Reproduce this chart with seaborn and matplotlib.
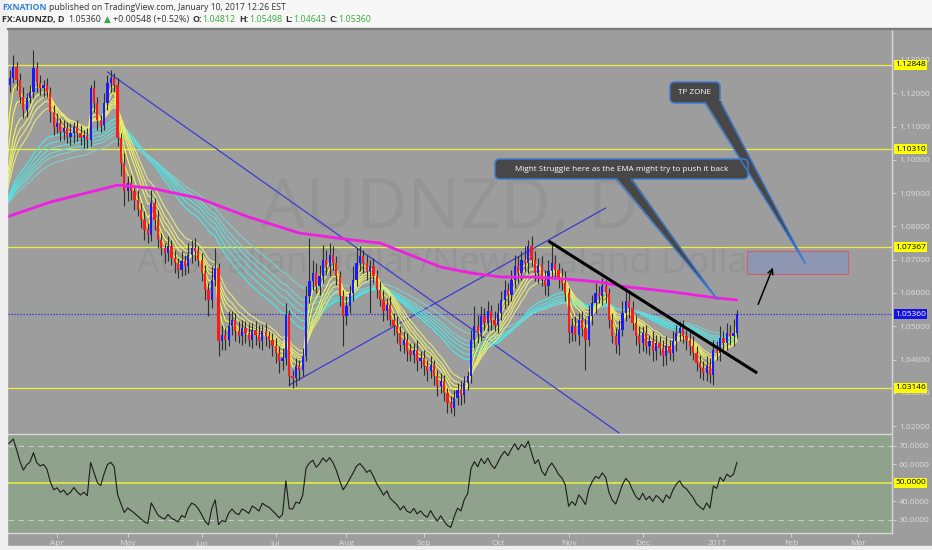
import matplotlib
matplotlib.use("Agg")
import matplotlib.pyplot as plt
import matplotlib.patches as mpatches
import matplotlib.transforms as mtransforms
import numpy as np
import pandas as pd
import seaborn as sns

# ---------------- data ----------------
start_day = "2016-03-11"
end_day = "2017-03-15"

first_open = 1.1180
close = [
    1.1225, 1.1245, 1.1280, 1.1240, 1.1190, 1.1150, 1.1185, 1.1205, 1.1275, 1.1230,
    1.1215, 1.1225, 1.1205, 1.1145, 1.1100, 1.1110, 1.1085, 1.1095, 1.1070, 1.1080,
    1.1100, 1.1080, 1.1065, 1.1075, 1.1060, 1.1215, 1.1170, 1.1120, 1.1105, 1.1170,
    1.1230, 1.1245, 1.1225, 1.1065, 1.0990, 1.0905, 1.0930, 1.0905, 1.0880, 1.0850,
    1.0820, 1.0790, 1.0775, 1.0870, 1.0820, 1.0760, 1.0735, 1.0720, 1.0740, 1.0705,
    1.0690, 1.0670, 1.0695, 1.0680, 1.0715, 1.0735, 1.0725, 1.0700, 1.0660, 1.0610,
    1.0580, 1.0640, 1.0675, 1.0455, 1.0475, 1.0460, 1.0500, 1.0520, 1.0485, 1.0470,
    1.0495, 1.0480, 1.0460, 1.0490, 1.0475, 1.0455, 1.0485, 1.0470, 1.0460, 1.0440,
    1.0420, 1.0395, 1.0405, 1.0535, 1.0350, 1.0345, 1.0380, 1.0370, 1.0410, 1.0590,
    1.0635, 1.0660, 1.0620, 1.0650, 1.0700, 1.0680, 1.0715, 1.0690, 1.0650, 1.0590,
    1.0530, 1.0560, 1.0600, 1.0640, 1.0690, 1.0710, 1.0690, 1.0665, 1.0680, 1.0650,
    1.0610, 1.0580, 1.0545, 1.0565, 1.0520, 1.0500, 1.0480, 1.0445, 1.0460, 1.0425,
    1.0415, 1.0430, 1.0395, 1.0405, 1.0380, 1.0365, 1.0385, 1.0350, 1.0320, 1.0335,
    1.0300, 1.0270, 1.0255, 1.0285, 1.0310, 1.0295, 1.0330, 1.0350, 1.0460, 1.0500,
    1.0480, 1.0530, 1.0510, 1.0545, 1.0520, 1.0505, 1.0540, 1.0580, 1.0610, 1.0595,
    1.0640, 1.0680, 1.0660, 1.0700, 1.0690, 1.0740, 1.0700, 1.0660, 1.0685, 1.0640,
    1.0620, 1.0665, 1.0690, 1.0670, 1.0645, 1.0630, 1.0600, 1.0480, 1.0500, 1.0475,
    1.0520, 1.0495, 1.0460, 1.0530, 1.0570, 1.0600, 1.0590, 1.0620, 1.0600, 1.0520,
    1.0470, 1.0445, 1.0490, 1.0540, 1.0575, 1.0555, 1.0510, 1.0470, 1.0450, 1.0480,
    1.0440, 1.0455, 1.0425, 1.0450, 1.0435, 1.0410, 1.0440, 1.0420, 1.0455, 1.0480,
    1.0495, 1.0470, 1.0460, 1.0440, 1.0420, 1.0390, 1.0375, 1.0360, 1.0380, 1.0355,
    1.0430, 1.0420, 1.0465, 1.0450, 1.0480, 1.0470, 1.04812, 1.05360,
]
upper_wick_pips = [
    20, 25, 35, 15, 20, 30, 15, 20, 55, 20,
    25, 15, 20, 15, 20, 30, 15, 25, 20, 30,
    15, 20, 25, 15, 20, 10, 25, 20, 15, 30,
    25, 25, 15, 20, 15, 30, 20, 25, 15, 30,
    20, 25, 20, 40, 15, 30, 20, 15, 30, 20,
    25, 15, 30, 20, 35, 25, 30, 15, 20, 25,
    20, 40, 60, 15, 30, 20, 45, 25, 20, 30,
    25, 20, 30, 20, 25, 30, 20, 25, 15, 20,
    25, 20, 30, 35, 15, 20, 25, 20, 25, 30,
    130, 40, 30, 35, 45, 30, 35, 25, 20, 15,
    20, 30, 25, 40, 45, 30, 20, 25, 20, 25,
    20, 25, 30, 20, 25, 20, 30, 20, 25, 20,
    25, 20, 30, 20, 25, 20, 25, 15, 20, 25,
    20, 15, 20, 25, 20, 25, 20, 15, 30, 60,
    35, 30, 25, 30, 20, 25, 30, 25, 30, 20,
    30, 35, 30, 25, 40, 20, 30, 25, 20, 25,
    30, 35, 60, 25, 20, 30, 35, 15, 25, 30,
    20, 25, 30, 35, 25, 30, 20, 25, 20, 15,
    20, 25, 30, 35, 40, 25, 20, 25, 30, 20,
    25, 20, 30, 25, 20, 25, 30, 20, 30, 25,
    20, 25, 20, 25, 30, 20, 25, 20, 30, 25,
    30, 25, 35, 20, 30, 25, 40, 14,
]
lower_wick_pips = [
    25, 20, 15, 30, 20, 25, 20, 15, 20, 25,
    20, 25, 15, 30, 25, 20, 30, 25, 20, 25,
    30, 25, 20, 30, 25, 20, 25, 30, 20, 15,
    20, 25, 20, 25, 40, 45, 30, 25, 30, 20,
    25, 30, 25, 20, 30, 25, 20, 30, 25, 20,
    30, 25, 20, 25, 20, 25, 30, 20, 25, 30,
    50, 25, 20, 45, 25, 30, 20, 25, 30, 20,
    25, 30, 20, 25, 30, 20, 25, 30, 25, 30,
    30, 35, 25, 20, 30, 30, 25, 30, 20, 15,
    20, 25, 20, 25, 20, 25, 30, 20, 25, 30,
    90, 25, 20, 25, 20, 25, 30, 25, 125, 20,
    25, 20, 30, 25, 20, 25, 30, 20, 25, 30,
    20, 25, 30, 20, 25, 30, 20, 25, 30, 20,
    25, 30, 15, 25, 20, 30, 25, 20, 20, 25,
    30, 25, 20, 25, 30, 20, 25, 20, 25, 30,
    20, 25, 30, 20, 25, 30, 20, 25, 30, 20,
    25, 30, 20, 25, 30, 20, 25, 30, 25, 20,
    30, 25, 90, 20, 25, 30, 20, 25, 30, 25,
    20, 25, 30, 20, 25, 30, 20, 25, 30, 25,
    20, 25, 30, 25, 20, 30, 25, 20, 25, 30,
    25, 20, 30, 25, 20, 25, 30, 20, 25, 25,
    30, 20, 25, 30, 20, 25, 30, 17,
]

levels = [1.12848, 1.10310, 1.07367, 1.03146]
last_price = 1.05360

# Guppy ribbons (computed from the closes)
ema_fast_spans = [3, 5, 8, 10, 12, 15]
ema_slow_spans = [30, 35, 40, 45, 50, 60]
warmup_close = 1.085          # where the ribbons come in from at the left edge
rsi_seed = (0.00255, 0.0012)  # avg gain / avg loss entering the window (RSI ~68)

# slow moving average (magenta), read point by point
slow_ma_dates = ["2016-03-11", "2016-03-30", "2016-04-27", "2016-05-11", "2016-05-31",
                 "2016-06-21", "2016-07-12", "2016-08-02", "2016-08-15", "2016-08-26",
                 "2016-09-08", "2016-09-21", "2016-10-04", "2016-10-17", "2016-10-31",
                 "2016-11-14", "2016-11-23", "2016-12-14", "2017-01-02", "2017-01-10"]
slow_ma_values = [1.0828, 1.0873, 1.0924, 1.0915, 1.0885,
                  1.0828, 1.0780, 1.0760, 1.0750, 1.0714,
                  1.0678, 1.0660, 1.0648, 1.0648, 1.0642,
                  1.0633, 1.0620, 1.0603, 1.0585, 1.0579]

# hand-drawn trend lines: (date, price) pairs
trend_down = [("2016-04-22", 1.12638), ("2016-11-22", 1.01794)]
trend_up = [("2016-07-07", 1.03236), ("2016-11-16", 1.08552)]
trend_black = [("2016-10-24", 1.07561), ("2017-01-18", 1.03596)]
tp_zone = [("2017-01-13", 1.06570), ("2017-02-24", 1.07261)]
arrow_path = [("2017-01-18", 1.0558), ("2017-01-25", 1.0684)]

# ---------------- layout ----------------
W, H = 932, 550
BG = "#9d9d9d"
LIGHT = "#dcdcdc"

sns.set_theme(style="white")
plt.rcParams["font.family"] = ["Open Sans", "DejaVu Sans"]

days = pd.bdate_range(start_day, end_day)
pos = pd.Series(np.arange(len(days)), index=days)


def at(d):
    return pos[pd.Timestamp(d)]


def rect(l, t, r, b):
    return [l / W, 1 - b / H, (r - l) / W, (b - t) / H]


fig = plt.figure(figsize=(W / 100, H / 100), dpi=100, facecolor=BG)
fig.patches.append(mpatches.Rectangle((0, 1 - 28 / H), 1, 28 / H, transform=fig.transFigure,
                                      color="#f7f7f7", zorder=0))
fig.patches.append(mpatches.Rectangle((0, 0), 7 / W, 1, transform=fig.transFigure,
                                      color="#eeeeee", zorder=0))
fig.patches.append(mpatches.Rectangle((0, 0), 1, 4 / H, transform=fig.transFigure,
                                      color="#eeeeee", zorder=0))
fig.patches.append(mpatches.Rectangle((7 / W, 1 - 29 / H), 1, 1.2 / H, transform=fig.transFigure,
                                      color="#7a7a7a", zorder=1))

ax = fig.add_axes(rect(7.5, 29, 892, 434))
rsi_ax = fig.add_axes(rect(7.5, 436, 892, 533), sharex=ax)

# ---------------- candles ----------------
c = np.array(close)
o = np.r_[first_open, c[:-1]]
hi = np.maximum(o, c) + np.array(upper_wick_pips) * 1e-4
lo = np.minimum(o, c) - np.array(lower_wick_pips) * 1e-4
x = np.arange(len(c))

ax.set_facecolor(BG)
ax.set_xlim(0.3, 263.07)
ax.set_ylim(1.01764, 1.13929)

# watermark
ax.text(0.5, 0.553, "AUDNZD, D", transform=ax.transAxes, ha="center", va="center",
        fontsize=50.5, color="#959595", zorder=0)
ax.text(0.5, 0.42, "Australian Dollar/New Zealand Dollar", transform=ax.transAxes,
        ha="center", va="center", fontsize=26, color="#959595", zorder=0)

for lv in levels:
    ax.axhline(lv, color="#f0f03c", lw=0.9, zorder=1)
ax.axhline(last_price, color="#2424e6", lw=0.9, ls=(0, (1, 1.4)), zorder=1)

# trend lines
for line in (trend_down, trend_up):
    ax.plot([at(d) for d, _ in line], [p for _, p in line], color="#3c3cd0", lw=0.9, zorder=2)

# ribbons
series = pd.Series(np.r_[warmup_close, c])
fast_cols = ["#ffff1e", "#fbfb3c", "#f6f656", "#f0f068", "#ebeb74", "#e6e67c"]
slow_cols = ["#3cf0f0", "#48e8e8", "#55e2e2", "#62dcdc", "#6fd6d6", "#7ad0d0"]
for spans, cols in [(ema_slow_spans, slow_cols), (ema_fast_spans, fast_cols)]:
    for span, col in zip(spans, cols):
        ema = series.ewm(span=span, adjust=False).mean().iloc[1:].values
        sns.lineplot(x=x, y=ema, ax=ax, color=col, lw=0.8, zorder=3, legend=False)

up = c >= o
ax.vlines(x, lo, hi, color="#2e2e2e", lw=0.8, zorder=4)
ax.bar(x, np.maximum(np.abs(c - o), 0.0003), bottom=np.minimum(o, c), width=0.66,
       color=np.where(up, "#1a1aff", "#ff1a1a"), linewidth=0, zorder=5)

sns.lineplot(x=[at(d) for d in slow_ma_dates], y=slow_ma_values, ax=ax,
             color="#f01ee0", lw=2.0, zorder=6, legend=False)

ax.plot([at(d) for d, _ in trend_black], [p for _, p in trend_black], color="black",
        lw=2.2, zorder=7, solid_capstyle="butt")

(d0, p0), (d1, p1) = tp_zone
ax.add_patch(mpatches.Rectangle((at(d0), p0), at(d1) - at(d0), p1 - p0, facecolor="#8d97b5",
                                edgecolor="#d05a6a", lw=0.8, alpha=0.9, zorder=6))
(a0, q0), (a1, q1) = arrow_path
ax.annotate("", xy=(at(a1), q1), xytext=(at(a0), q0), zorder=8,
            arrowprops=dict(arrowstyle="->", color="black", lw=1.1, mutation_scale=9))

# price axis
ax.yaxis.tick_right()
ax.set_yticks(np.arange(1.02, 1.1305, 0.01))
ax.yaxis.set_major_formatter(matplotlib.ticker.FormatStrFormatter("%.5f"))
ax.tick_params(axis="y", colors=LIGHT, labelcolor=LIGHT, labelsize=6, length=3, width=0.6, pad=2)
ax.tick_params(axis="x", bottom=False, labelbottom=False)
for s in ["left", "top"]:
    ax.spines[s].set_visible(False)
for s in ["right", "bottom"]:
    ax.spines[s].set_color("#d8d8d8")
    ax.spines[s].set_linewidth(1.0)

lab_tr = mtransforms.blended_transform_factory(ax.transAxes, ax.transData)
lab_tr = lab_tr + mtransforms.ScaledTranslation(3 / 100, 0, fig.dpi_scale_trans)
for lv in levels:
    ax.text(1, lv, f"{lv:.5f}", transform=lab_tr, ha="left", va="center", fontsize=6,
            color="black", zorder=20, clip_on=False,
            bbox=dict(boxstyle="square,pad=0.18", fc="#ffff00", ec="none"))
ax.text(1, last_price, f"{last_price:.5f}", transform=lab_tr, ha="left", va="center",
        fontsize=6, color="white", zorder=20, clip_on=False,
        bbox=dict(boxstyle="square,pad=0.18", fc="#1414e6", ec="none"))

# ---------------- RSI panel ----------------
g, l = rsi_seed
rsi = []
prev = first_open
for v in c:
    d = v - prev
    g = (g * 13 + max(d, 0)) / 14
    l = (l * 13 + max(-d, 0)) / 14
    rsi.append(100 - 100 / (1 + g / l))
    prev = v

rsi_ax.set_facecolor("#8fa28b")
rsi_ax.set_ylim(22.97, 75.4)
rsi_ax.axhline(50, color="#d6e24a", lw=1.4, zorder=1)
for lv in (70, 30):
    rsi_ax.axhline(lv, color="#c4cfc2", lw=0.8, ls=(0, (5, 4)), zorder=1)
sns.lineplot(x=x, y=rsi, ax=rsi_ax, color="#1c1c1c", lw=0.8, zorder=3, legend=False)

rsi_ax.yaxis.tick_right()
rsi_ax.set_yticks([30, 40, 60, 70])
rsi_ax.yaxis.set_major_formatter(matplotlib.ticker.FormatStrFormatter("%.4f"))
rsi_ax.tick_params(axis="y", colors=LIGHT, labelcolor=LIGHT, labelsize=6, length=3, width=0.6, pad=2)
rsi_tr = mtransforms.blended_transform_factory(rsi_ax.transAxes, rsi_ax.transData)
rsi_tr = rsi_tr + mtransforms.ScaledTranslation(3 / 100, 0, fig.dpi_scale_trans)
rsi_ax.text(1, 50, "50.0000", transform=rsi_tr, ha="left", va="center", fontsize=6,
            color="black", zorder=20, clip_on=False,
            bbox=dict(boxstyle="square,pad=0.18", fc="#ffff00", ec="none"))
for s in ["left", "top"]:
    rsi_ax.spines[s].set_visible(False)
for s in ["right", "bottom"]:
    rsi_ax.spines[s].set_color("#d8d8d8")
    rsi_ax.spines[s].set_linewidth(1.0)

month_starts = [d for d in days[1:] if d.month != (d - pd.offsets.BDay()).month]
rsi_ax.set_xticks([at(d) for d in month_starts])
rsi_ax.set_xticklabels([str(d.year) if d.month == 1 else d.strftime("%b") for d in month_starts])
rsi_ax.tick_params(axis="x", colors=LIGHT, labelcolor=LIGHT, labelsize=6, length=3, width=0.6,
                   pad=2, bottom=True)
ax.set_xlabel("")
rsi_ax.set_xlabel("")
rsi_ax.set_ylabel("")
ax.set_ylabel("")

# ---------------- callouts (pixel overlay) ----------------
ov = fig.add_axes([0, 0, 1, 1])
ov.set_xlim(0, W)
ov.set_ylim(H, 0)
ov.axis("off")
ov.patch.set_alpha(0)
ov.set_zorder(10)

BOX = "#474747"
EDGE = "#3a7ad0"


def callout(x0, y0, x1, y1, text, tail, tip):
    ov.add_patch(mpatches.FancyBboxPatch((x0, y0), x1 - x0, y1 - y0,
                                         boxstyle="round,pad=0,rounding_size=5",
                                         fc=BOX, ec=EDGE, lw=1.1))
    (bx0, bx1) = tail
    ov.add_patch(mpatches.Polygon([(bx0, y1 - 2), (bx1, y1 - 2), tip], closed=True,
                                  fc=BOX, ec="none"))
    ov.plot([bx0, tip[0]], [y1, tip[1]], color=EDGE, lw=1.0)
    ov.plot([bx1, tip[0]], [y1, tip[1]], color=EDGE, lw=1.0)
    ov.text((x0 + x1) / 2, (y0 + y1) / 2 + 0.5, text, ha="center", va="center",
            color="white", fontsize=5.9)


callout(670, 82, 720, 103, "TP ZONE", (705, 721), (805, 263))
callout(495, 159, 748, 179, "Might Struggle here as the EMA might try to push it back",
        (616, 631), (717, 299))

# ---------------- header ----------------
renderer = fig.canvas.get_renderer()


def write_run(pieces, x0, y0, size=6.2):
    xx = x0
    for s, col, wt, gap in pieces:
        t = fig.text(xx / W, 1 - y0 / H, s, color=col, fontsize=size, fontweight=wt,
                     ha="left", va="center")
        xx = t.get_window_extent(renderer=renderer).x1 + gap


DARK = "#333333"
GREEN = "#39a83c"
write_run([("FXNATION", "#2f80d6", "bold", 2.5),
           ("published on TradingView.com, January 10, 2017 12:26 EST", DARK, "normal", 0)],
          2, 7.5)
write_run([("FX:AUDNZD, D", DARK, "bold", 3.5),
           ("1.05360", DARK, "normal", 3),
           ("\u25b2", GREEN, "normal", 2),
           ("+0.00548 (+0.52%)", DARK, "normal", 3.5),
           ("O:", DARK, "bold", 0.5), ("1.04812", GREEN, "normal", 3.5),
           ("H:", DARK, "bold", 0.5), ("1.05498", GREEN, "normal", 3.5),
           ("L:", DARK, "bold", 0.5), ("1.04643", GREEN, "normal", 3.5),
           ("C:", DARK, "bold", 0.5), ("1.05360", GREEN, "normal", 0)],
          2, 19.5, size=6.4)

fig.savefig("out.png", dpi=100, facecolor=fig.get_facecolor())
